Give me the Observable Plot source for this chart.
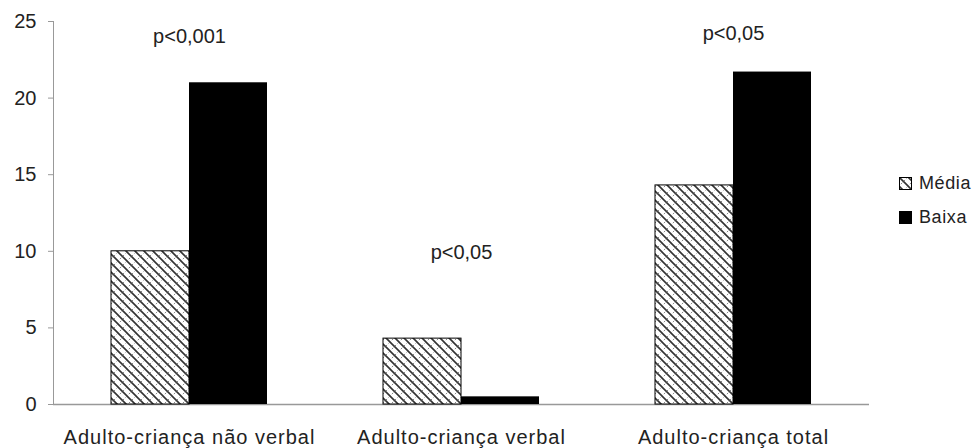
<!DOCTYPE html>
<html><head><meta charset="utf-8">
<script src="https://cdn.jsdelivr.net/npm/d3@7"></script>
<script src="https://cdn.jsdelivr.net/npm/@observablehq/plot@0.6"></script>
<style>
body{margin:0;background:#fff;font-family:"Liberation Sans",Arial,sans-serif;}
#wrap{position:relative;width:977px;height:448px;overflow:hidden;}
.leg{position:absolute;left:899px;display:flex;align-items:center;font-size:18px;color:#222;line-height:1;letter-spacing:0.6px;}
.leg svg{margin-right:7px;display:block;}
g[aria-label="fx-axis tick label"] text{letter-spacing:1px;}
</style></head><body>
<svg width="0" height="0" style="position:absolute">
<defs>
<pattern id="hatch" patternUnits="userSpaceOnUse" width="9" height="9">
<rect width="9" height="9" fill="#fff"/>
<path d="M-2,-2 L11,11 M-2,7 L2,11 M7,-2 L11,2" stroke="#333" stroke-width="1.6"/>
<path d="M-1,10 L10,-1 M-1,1 L1,-1 M8,10 L10,8" stroke="#666" stroke-width="0.8" stroke-dasharray="2,2"/>
</pattern>
</defs></svg>
<div id="wrap"></div>
<script>
const categories = ["Adulto-criança não verbal", "Adulto-criança verbal", "Adulto-criança total"];
const series = ["Média", "Baixa"];
const media = [10, 4.3, 14.3];
const baixa = [21, 0.5, 21.7];
const pLabels = ["p<0,001", "p<0,05", "p<0,05"];
const pPos = [23.6, 9.5, 23.8];
const yTicks = [0, 5, 10, 15, 20, 25];

const mediaData = categories.map((c, i) => ({cat: c, serie: series[0], v: media[i]}));
const baixaData = categories.map((c, i) => ({cat: c, serie: series[1], v: baixa[i]}));
const pData = categories.map((c, i) => ({cat: c, t: pLabels[i], y: pPos[i]}));

const chart = Plot.plot({
  width: 977, height: 448,
  marginLeft: 52, marginRight: 107, marginTop: 21, marginBottom: 44,
  style: {fontFamily: '"Liberation Sans", Arial, sans-serif', fontSize: "20px", color: "#222", background: "#fff"},
  fx: {domain: categories, padding: 0, label: null},
  x: {domain: series, paddingInner: 0, paddingOuter: 0.728, axis: null},
  y: {domain: [0, 25], label: null},
  marks: [
    Plot.axisY({ticks: yTicks, tickSize: 5, tickPadding: 12, stroke: "#999", fill: "#222", fontSize: 20, label: null}),
    Plot.frame({anchor: "left", stroke: "#999", facetAnchor: "left"}),
    Plot.ruleY([0], {stroke: "#999", strokeWidth: 1.5}),
    Plot.barY(mediaData, {fx: "cat", x: "serie", y: "v", fill: "url(#hatch)", stroke: "#000", strokeWidth: 1}),
    Plot.barY(baixaData, {fx: "cat", x: "serie", y: "v", fill: "#000"}),
    Plot.text(pData, {fx: "cat", y: "y", text: "t", lineAnchor: "bottom", textAnchor: "middle", fontSize: 20, fill: "#222"}),
    Plot.axisFx({anchor: "bottom", tickSize: 0, tickPadding: 25, fontSize: 20, fill: "#222", label: null})
  ]
});
const wrap = document.getElementById("wrap");
wrap.appendChild(chart);

const legTop = [174, 208];
series.forEach((s, i) => {
  const d = document.createElement("div");
  d.className = "leg";
  d.style.top = legTop[i] + "px";
  const fill = i === 0 ? "url(#hatch)" : "#000";
  d.innerHTML = `<svg width="13" height="13"><rect x="0.5" y="0.5" width="12" height="12" fill="${fill}" stroke="#000"/></svg><span>${s}</span>`;
  wrap.appendChild(d);
});
</script>
</body></html>
